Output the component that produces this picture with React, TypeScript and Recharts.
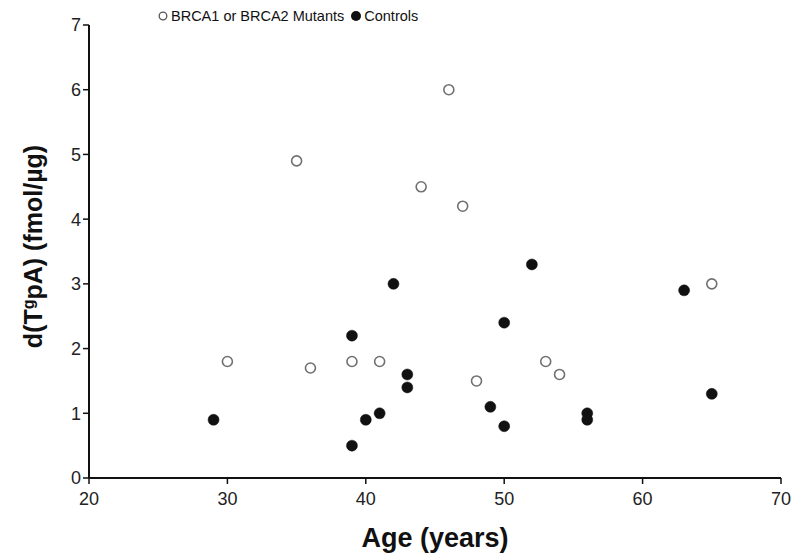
import { ScatterChart, Scatter, XAxis, YAxis } from 'recharts';

const mutantAge = [30, 35, 36, 39, 41, 44, 46, 47, 48, 53, 54, 65];
const mutantValue = [1.8, 4.9, 1.7, 1.8, 1.8, 4.5, 6.0, 4.2, 1.5, 1.8, 1.6, 3.0];

const controlAge = [29, 39, 39, 40, 41, 42, 43, 43, 49, 50, 50, 52, 56, 56, 63, 65];
const controlValue = [0.9, 0.5, 2.2, 0.9, 1.0, 3.0, 1.6, 1.4, 1.1, 2.4, 0.8, 3.3, 1.0, 0.9, 2.9, 1.3];

const xTicks = [20, 30, 40, 50, 60, 70];
const yTicks = [0, 1, 2, 3, 4, 5, 6, 7];

const mutants = mutantAge.map((age, i) => ({ age, value: mutantValue[i] }));
const controls = controlAge.map((age, i) => ({ age, value: controlValue[i] }));

const FONT = '"Liberation Sans", Arial, sans-serif';

const OpenDot = (props: any) => (
    <circle cx={props.cx} cy={props.cy} r={5} fill="#fff" stroke="#707070" strokeWidth={1.6} />
);

const FilledDot = (props: any) => (
    <circle cx={props.cx} cy={props.cy} r={5.5} fill="#111" stroke="#111" strokeWidth={0.5} />
);

const XLabel = (props: any) => {
    const { x, y, width } = props.viewBox;
    return (
        <text x={x + width / 2} y={y + 69} textAnchor="middle" fontFamily={FONT} fontWeight="bold" fontSize={27} fill="#111">
            Age (years)
        </text>
    );
};

const YLabel = (props: any) => {
    const { y, height } = props.viewBox;
    const cx = 42;
    const cy = y + height / 2 - 5;
    return (
        <text
            x={cx}
            y={cy}
            textAnchor="middle"
            transform={`rotate(-90 ${cx} ${cy})`}
            fontFamily={FONT}
            fontWeight="bold"
            fontSize={25}
            fill="#111"
        >
            <tspan>d(T</tspan>
            <tspan dy={-8} fontSize={16}>g</tspan>
            <tspan dy={8}>pA) (fmol/µg)</tspan>
        </text>
    );
};

export default function App() {
    return (
        <div style={{ position: 'absolute', left: 0, top: 0, width: 800, height: 560, background: '#fff' }}>
            <div
                style={{
                    position: 'absolute',
                    left: 157,
                    top: 8,
                    fontFamily: FONT,
                    fontSize: 14.5,
                    color: '#111',
                    whiteSpace: 'nowrap',
                    display: 'flex',
                    alignItems: 'center',
                }}
            >
                <svg width={12} height={12}>
                    <circle cx={6} cy={6} r={3.8} fill="#fff" stroke="#555" strokeWidth={1.3} />
                </svg>
                <span style={{ marginLeft: 2 }}>BRCA1 or BRCA2 Mutants</span>
                <svg width={14} height={12} style={{ marginLeft: 5 }}>
                    <circle cx={7} cy={6} r={5} fill="#111" />
                </svg>
                <span style={{ marginLeft: 1 }}>Controls</span>
            </div>
            <ScatterChart width={800} height={560} margin={{ top: 25, right: 19, bottom: 0, left: 0 }}>
                <XAxis
                    type="number"
                    dataKey="age"
                    domain={[20, 70]}
                    ticks={xTicks}
                    interval={0}
                    height={82}
                    tickSize={6}
                    axisLine={{ stroke: '#111', strokeWidth: 2 }}
                    tickLine={{ stroke: '#111', strokeWidth: 1.5 }}
                    tick={{ fill: '#222', fontSize: 18, fontFamily: FONT, dy: 6 }}
                    label={<XLabel />}
                />
                <YAxis
                    type="number"
                    dataKey="value"
                    domain={[0, 7]}
                    ticks={yTicks}
                    interval={0}
                    width={89}
                    tickSize={6}
                    axisLine={{ stroke: '#111', strokeWidth: 2 }}
                    tickLine={{ stroke: '#111', strokeWidth: 1.5 }}
                    tick={{ fill: '#222', fontSize: 18, fontFamily: FONT }}
                    label={<YLabel />}
                />
                <Scatter name="BRCA1 or BRCA2 Mutants" data={mutants} shape={OpenDot} isAnimationActive={false} />
                <Scatter name="Controls" data={controls} shape={FilledDot} isAnimationActive={false} />
            </ScatterChart>
        </div>
    );
}
